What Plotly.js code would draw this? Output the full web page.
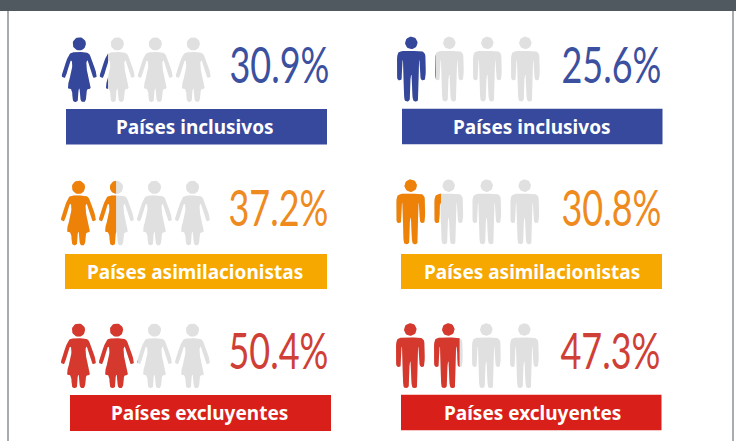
<!DOCTYPE html>
<html><head><meta charset="utf-8">
<script src="https://cdn.plot.ly/plotly-3.0.1.min.js"></script>
<style>html,body{margin:0;padding:0;background:#fff}#c{width:736px;height:441px}</style>
</head><body><div id="c"></div>
<script>
const categories = ['Países inclusivos', 'Países asimilacionistas', 'Países excluyentes'];
const womenValues = [30.9, 37.2, 50.4];
const menValues = [25.6, 30.8, 47.3];
const figureColors = ['#34479b', '#ee8208', '#d5392e'];
const bannerColors = ['#37499d', '#f6a800', '#d91f19'];
const textColors = ['#3c50a0', '#ee8a1e', '#cf3f36'];

const W = 736, H = 441;
const PERSONS = 4, PER_PERSON = 25, PITCH = 38;
const GREY = '#e0e0e0';
const PCT_TEXT_WIDTH = 100;

// panel placement
const womenPanels = [
  {cx:79.3, top:37.3, bar:[66,327,109,144.5], barLabel:[195,127], pct:[279,64]},
  {cx:78.5, top:180.7, bar:[65,327,254,289], barLabel:[195,272], pct:[278.5,207]},
  {cx:78.5, top:323.5, bar:[70,331,395,431], barLabel:[199,413], pct:[278.5,350]}
];
const menPanels = [
  {cx:411.3, top:36.7, bar:[402,662.5,108.7,144.3], barLabel:[532,127], pct:[611,64]},
  {cx:410.7, top:179.5, bar:[401,662,254,289], barLabel:[532,272], pct:[611,207]},
  {cx:410.3, top:323.3, bar:[401,661.5,394.7,430.3], barLabel:[532,413], pct:[610.5,350]}
];

// silhouette geometry (local pixels: x from the centre line, y from the head top)
function smooth(poly, n) {
  let p = poly;
  for (let k = 0; k < n; k++) {
    const q = [];
    p.forEach((a, i) => {
      const b = p[(i + 1) % p.length];
      q.push([a[0]*.75 + b[0]*.25, a[1]*.75 + b[1]*.25]);
      q.push([a[0]*.25 + b[0]*.75, a[1]*.25 + b[1]*.75]);
    });
    p = q;
  }
  return p;
}
function mirror(half) {
  return half.concat(half.slice().reverse().map(p => [-p[0], p[1]]));
}
function head(r) {
  const pts = [];
  for (let i = 0; i < 32; i++) {
    const t = i / 32 * 2 * Math.PI;
    pts.push([r * Math.cos(t), r + r * Math.sin(t)]);
  }
  return pts;
}
const womanBody = smooth(mirror([
  [0,14.8],[4,14.8],[8.4,15.4],[11,18],[17.8,37.8],[17,40],[14.4,40.8],[13.4,39],
  [9,23],[7.4,23.5],[6.8,27],[8,36],[12.6,51.4],[7.2,51.4],[6.8,62],[5.6,64.6],[2.4,64.6],[1,62],[1,51.4]
]), 2);
const manBody = smooth(mirror([
  [0,14.2],[8,14.2],[12.4,15],[14.4,18.6],[14.4,41],[13.2,43.6],[10.2,43.6],[9,41],
  [9,24],[8.2,23.4],[7.6,24],[7.4,61],[6.2,64.8],[2.4,64.8],[1,61],[1,38.4]
]), 2);
const womanShape = {width:35.2, parts:[head(6.6), womanBody]};
const manShape = {width:28.8, parts:[head(6.2), manBody]};

function clipRight(poly, cut) {
  const out = [];
  poly.forEach((a, i) => {
    const b = poly[(i + 1) % poly.length];
    const ai = a[0] <= cut, bi = b[0] <= cut;
    if (ai) out.push(a);
    if (ai !== bi) {
      const t = (cut - a[0]) / (b[0] - a[0]);
      out.push([cut, a[1] + t * (b[1] - a[1])]);
    }
  });
  return out;
}
function addPoly(store, poly, ox, oy) {
  if (!poly.length) return;
  poly.forEach(p => { store.x.push(p[0] + ox); store.y.push(p[1] + oy); });
  store.x.push(poly[0][0] + ox); store.y.push(poly[0][1] + oy);
  store.x.push(null); store.y.push(null);
}
function fillTrace(store, color, name) {
  return {x:store.x, y:store.y, type:'scatter', mode:'lines', fill:'toself', fillcolor:color,
          line:{width:0, color:color}, hoverinfo:'skip', showlegend:false, name:name, connectgaps:false};
}

const traces = [], shapes = [], annotations = [];
function panel(value, idx, pos, shape) {
  const grey = {x:[], y:[]}, col = {x:[], y:[]};
  for (let i = 0; i < PERSONS; i++) {
    const ox = pos.cx + i * PITCH;
    shape.parts.forEach(p => addPoly(grey, p, ox, pos.top));
    const f = Math.max(0, Math.min(1, (value - i * PER_PERSON) / PER_PERSON));
    if (f > 0) {
      const cut = -shape.width / 2 + f * shape.width;
      shape.parts.forEach(p => addPoly(col, clipRight(p, cut), ox, pos.top));
    }
  }
  traces.push(fillTrace(grey, GREY, 'base'));
  traces.push(fillTrace(col, figureColors[idx], categories[idx]));
  shapes.push({type:'rect', xref:'x', yref:'y', x0:pos.bar[0], x1:pos.bar[1], y0:pos.bar[2], y1:pos.bar[3],
               fillcolor:bannerColors[idx], line:{width:0}, layer:'below'});
  annotations.push({x:pos.barLabel[0], y:pos.barLabel[1], xref:'x', yref:'y', text:categories[idx], showarrow:false,
                    xanchor:'center', yanchor:'middle', font:{family:'Noto Sans, Open Sans, sans-serif', size:19, color:'#ffffff', weight:700}});
  annotations.push({x:pos.pct[0], y:pos.pct[1], xref:'x', yref:'y', text:value.toFixed(1) + '%', showarrow:false,
                    xanchor:'center', yanchor:'middle', font:{family:'Lato, sans-serif', size:50, color:textColors[idx]}});
}
categories.forEach((c, i) => {
  panel(womenValues[i], i, womenPanels[i], womanShape);
  panel(menValues[i], i, menPanels[i], manShape);
});

// page frame
shapes.push({type:'rect', xref:'x', yref:'y', x0:0, x1:W, y0:0, y1:11, fillcolor:'#50595f', line:{width:0}, layer:'below'});
shapes.push({type:'line', xref:'x', yref:'y', x0:8, x1:8, y0:11, y1:H, line:{color:'#8c9093', width:1.5}, layer:'below'});
shapes.push({type:'line', xref:'x', yref:'y', x0:733, x1:733, y0:11, y1:H, line:{color:'#8c9093', width:1.5}, layer:'below'});

const axis = {showgrid:false, zeroline:false, showticklabels:false, ticks:'', showline:false, fixedrange:true};
Plotly.newPlot('c', traces, {
  width:W, height:H, margin:{l:0, r:0, t:0, b:0},
  paper_bgcolor:'#ffffff', plot_bgcolor:'#ffffff', showlegend:false,
  xaxis:Object.assign({range:[0, W]}, axis),
  yaxis:Object.assign({range:[H, 0]}, axis),
  shapes:shapes, annotations:annotations
}, {displayModeBar:false, staticPlot:true}).then(() => {
  // The reference type is condensed: narrow the percentage labels to its width.
  document.querySelectorAll('.annotation-text').forEach(t => {
    if (t.textContent.endsWith('%')) {
      t.setAttribute('textLength', PCT_TEXT_WIDTH);
      t.setAttribute('lengthAdjust', 'spacingAndGlyphs');
    }
  });
});
</script></body></html>
